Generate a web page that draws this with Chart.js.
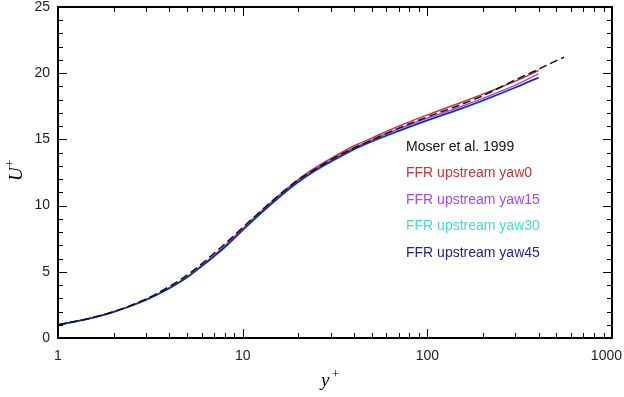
<!DOCTYPE html>
<html><head><meta charset="utf-8">
<script src="https://cdn.jsdelivr.net/npm/chart.js@4/dist/chart.umd.min.js"></script>
<style>html,body{margin:0;padding:0;background:#fff;}#wrap{width:624px;height:397px;}</style>
</head><body><div id="wrap"><canvas id="c" width="624" height="397"></canvas></div>
<script>
const yPlus      = [1, 1.5, 2, 3, 4, 5, 6, 7, 8, 10, 12, 15, 20, 25, 30, 40, 50, 70, 100, 150, 200, 300, 400];
const moserYPlus = [1, 1.5, 2, 3, 4, 5, 6, 7, 8, 10, 12, 15, 20, 25, 30, 40, 50, 70, 100, 150, 200, 300, 400, 500, 550];
const moserU  = [1.0, 1.5, 1.99, 2.95, 3.88, 4.75, 5.6, 6.4, 7.1, 8.35, 9.35, 10.55, 11.95, 12.8, 13.45, 14.35, 14.95, 15.85, 16.7, 17.6, 18.3, 19.5, 20.3, 20.95, 21.2];
const yaw0U   = [1.0, 1.5, 1.98, 2.9, 3.78, 4.62, 5.48, 6.25, 6.95, 8.25, 9.3, 10.52, 11.97, 12.9, 13.55, 14.5, 15.1, 16.0, 16.85, 17.75, 18.42, 19.4, 20.2];
const yaw15U  = [1.0, 1.5, 1.98, 2.9, 3.77, 4.6, 5.45, 6.2, 6.9, 8.2, 9.25, 10.45, 11.87, 12.8, 13.42, 14.35, 14.95, 15.8, 16.6, 17.45, 18.1, 19.1, 19.95];
const yaw30U  = [0.98, 1.48, 1.96, 2.87, 3.74, 4.56, 5.4, 6.15, 6.83, 8.12, 9.15, 10.35, 11.75, 12.65, 13.27, 14.2, 14.8, 15.6, 16.4, 17.25, 17.9, 18.9, 19.65];
const yaw45U  = [1.0, 1.49, 1.97, 2.88, 3.75, 4.58, 5.42, 6.17, 6.86, 8.15, 9.18, 10.38, 11.79, 12.7, 13.32, 14.25, 14.85, 15.65, 16.45, 17.3, 17.95, 18.93, 19.68];
const labels = ["Moser et al. 1999", "FFR upstream yaw0", "FFR upstream yaw15", "FFR upstream yaw30", "FFR upstream yaw45"];
const colors = ["#111111", "#cc3333", "#aa44ff", "#40e0d0", "#1f1f99"];
const xMajor = [1, 10, 100, 1000];
const yMajor = [0, 5, 10, 15, 20, 25];

function pts(xs, ys){ return xs.map((x,i)=>({x:x, y:ys[i]})); }
const series = [pts(moserYPlus, moserU), pts(yPlus, yaw0U), pts(yPlus, yaw15U), pts(yPlus, yaw30U), pts(yPlus, yaw45U)];

const datasets = series.map((d,i)=>({
  label: labels[i], data: d, borderColor: colors[i], backgroundColor: colors[i],
  borderWidth: 1.5, pointRadius: 0, fill: false, cubicInterpolationMode: 'monotone',
  borderDash: i===0 ? [8,4] : [], order: i===0 ? 0 : (5 - i)
}));

const deco = {
  id: 'deco',
  afterDatasetsDraw(chart){
    const ctx = chart.ctx, a = chart.chartArea, xs = chart.scales.x, ys = chart.scales.y;
    ctx.save();
    ctx.strokeStyle = '#000'; ctx.lineWidth = 1;
    for (let dec = 1; dec < 1000; dec *= 10) {
      for (let m = 1; m <= 10; m++) {
        const v = dec*m; if (v > 1000) break;
        const px = Math.round(xs.getPixelForValue(v)) + 0.5;
        const len = (m === 1 || m === 10) ? 9 : 5;
        ctx.beginPath(); ctx.moveTo(px, a.bottom); ctx.lineTo(px, a.bottom - len);
        ctx.moveTo(px, a.top); ctx.lineTo(px, a.top + len); ctx.stroke();
      }
    }
    for (let v = 0; v <= 25; v++) {
      const py = Math.round(ys.getPixelForValue(v)) + 0.5;
      const len = (v % 5 === 0) ? 9 : 5;
      ctx.beginPath(); ctx.moveTo(a.left, py); ctx.lineTo(a.left + len, py);
      ctx.moveTo(a.right, py); ctx.lineTo(a.right - len, py); ctx.stroke();
    }
    ctx.lineWidth = 2;
    ctx.strokeRect(a.left, a.top, a.right - a.left, a.bottom - a.top);
    ctx.font = '14px "Liberation Sans", Arial, sans-serif';
    ctx.fillStyle = '#222'; ctx.textAlign = 'center'; ctx.textBaseline = 'middle';
    xMajor.forEach(v => {
      const t = String(v), w = ctx.measureText(t).width;
      let px = xs.getPixelForValue(v);
      px = Math.min(px, chart.width - 2 - w/2);
      ctx.fillText(t, px, a.bottom + 18);
    });
    ctx.textAlign = 'left';
    labels.forEach((t,i)=>{ ctx.fillStyle = colors[i]; ctx.fillText(t, 406, 147 + i*26.5); });
    ctx.fillStyle = '#000';
    ctx.font = 'italic 19px "Liberation Serif", "Times New Roman", serif';
    ctx.textBaseline = 'alphabetic';
    ctx.fillText('y', 321, 386);
    ctx.font = '13px "Liberation Serif", serif';
    ctx.fillText('+', 332, 378);
    ctx.translate(22, 181); ctx.rotate(-Math.PI/2);
    ctx.font = 'italic 19px "Liberation Serif", "Times New Roman", serif';
    ctx.fillText('U', 0, 0);
    ctx.font = '13px "Liberation Serif", serif';
    ctx.fillText('+', 14, -8);
    ctx.restore();
  }
};

new Chart(document.getElementById('c'), {
  type: 'line',
  data: { datasets: datasets },
  options: {
    responsive: false, animation: false, devicePixelRatio: 1,
    layout: { padding: { top: 7, right: 12, left: 0, bottom: 0 } },
    plugins: { legend: { display: false }, tooltip: { enabled: false } },
    scales: {
      x: {
        type: 'logarithmic', min: 1, max: 1000,
        afterFit: s => { s.height = 59; s.paddingLeft = 0; s.paddingRight = 0; },
        grid: { display: false, drawTicks: false }, border: { display: false },
        ticks: { display: false },
        afterBuildTicks: s => { s.ticks = xMajor.map(v => ({ value: v })); }
      },
      y: {
        type: 'linear', min: 0, max: 25,
        afterFit: s => { s.width = 58; s.paddingTop = 0; s.paddingBottom = 0; },
        grid: { display: false, drawTicks: false }, border: { display: false },
        ticks: {
          stepSize: 5, padding: 8, color: '#222',
          font: { family: '"Liberation Sans", Arial, sans-serif', size: 14 }
        },
        afterBuildTicks: s => { s.ticks = yMajor.map(v => ({ value: v })); }
      }
    }
  },
  plugins: [deco]
});
</script>
</body></html>
